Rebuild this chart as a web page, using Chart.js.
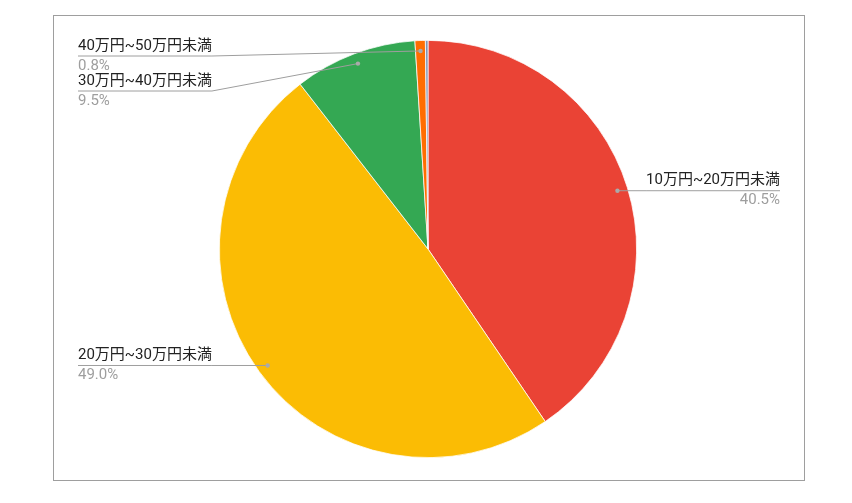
<!DOCTYPE html>
<html>
<head>
<meta charset="utf-8">
<script src="https://cdn.jsdelivr.net/npm/chart.js@4"></script>
<style>
  html, body { margin: 0; padding: 0; background: #fff; }
  #wrap { width: 852px; height: 503px; position: relative; }
</style>
</head>
<body>
<div id="wrap"><canvas id="incomeChart"></canvas></div>
<script>
// data
const categories = ['10万円~20万円未満', '20万円~30万円未満', '30万円~40万円未満', '40万円~50万円未満', '50万円以上'];
const shares = [40.5, 49.0, 9.5, 0.8, 0.2];
const sliceColors = ['#EA4335', '#FBBC04', '#34A853', '#FF6D01', '#7f93b3'];
const minLabelShare = 0.5;

const FONT = "Roboto, 'Noto Sans CJK JP', sans-serif";

// frame round the chart
const framePlugin = {
    id: 'frame',
    beforeDraw(chart) {
        const c = chart.ctx;
        c.save();
        c.strokeStyle = '#9e9e9e';
        c.lineWidth = 1;
        c.strokeRect(53.5, 15.5, 751, 465);
        c.restore();
    }
};

// google-sheets style labels with leader lines
const sideLabels = {
    id: 'sideLabels',
    afterDatasetsDraw(chart) {
        const c = chart.ctx;
        const meta = chart.getDatasetMeta(0);
        const left = [], right = [];
        meta.data.forEach((arc, i) => {
            if (shares[i] < minLabelShare) return;
            const mid = (arc.startAngle + arc.endAngle) / 2;
            const r = arc.outerRadius * 0.95;
            const item = {
                i: i,
                dx: arc.x + Math.cos(mid) * r,
                dy: arc.y + Math.sin(mid) * r
            };
            (Math.cos(mid) >= 0 ? right : left).push(item);
        });

        c.save();
        c.font = '15px ' + FONT;
        const nameW = i => c.measureText(categories[i]).width;

        function place(list) {
            list.sort((a, b) => a.dy - b.dy);
            let prev = -Infinity;
            list.forEach(it => {
                it.y = Math.max(it.dy, prev + 35, 56);
                prev = it.y;
            });
        }
        place(left);
        place(right);

        function drawOne(it, isLeft) {
            const w = nameW(it.i);
            const x0 = isLeft ? 78 : 780 - w;
            const x1 = isLeft ? 78 + w : 780;
            // leader
            c.strokeStyle = '#9e9e9e';
            c.lineWidth = 1;
            c.beginPath();
            if (isLeft) {
                c.moveTo(x0, it.y);
                c.lineTo(x1, it.y);
                c.lineTo(it.dx, it.dy);
            } else {
                c.moveTo(x1, it.y);
                c.lineTo(x0, it.y);
                c.lineTo(it.dx, it.dy);
            }
            c.stroke();
            c.fillStyle = '#aaaaaa';
            c.beginPath();
            c.arc(it.dx, it.dy, 2.2, 0, Math.PI * 2);
            c.fill();
            // texts
            c.textBaseline = 'middle';
            c.textAlign = isLeft ? 'left' : 'right';
            const tx = isLeft ? 78 : 780;
            c.fillStyle = '#222222';
            c.fillText(categories[it.i], tx, it.y - 10);
            c.fillStyle = '#9e9e9e';
            c.fillText(shares[it.i].toFixed(1) + '%', tx, it.y + 10);
        }
        left.forEach(it => drawOne(it, true));
        right.forEach(it => drawOne(it, false));
        c.restore();
    }
};

const ctx = document.getElementById('incomeChart').getContext('2d');
new Chart(ctx, {
    type: 'pie',
    data: {
        labels: categories,
        datasets: [{
            data: shares,
            backgroundColor: sliceColors,
            borderColor: '#ffffff',
            borderWidth: 0.75
        }]
    },
    options: {
        responsive: true,
        maintainAspectRatio: false,
        animation: false,
        layout: {
            padding: { left: 219, right: 215, top: 40, bottom: 45 }
        },
        plugins: {
            legend: { display: false },
            tooltip: { enabled: false }
        }
    },
    plugins: [framePlugin, sideLabels]
});
</script>
</body>
</html>
